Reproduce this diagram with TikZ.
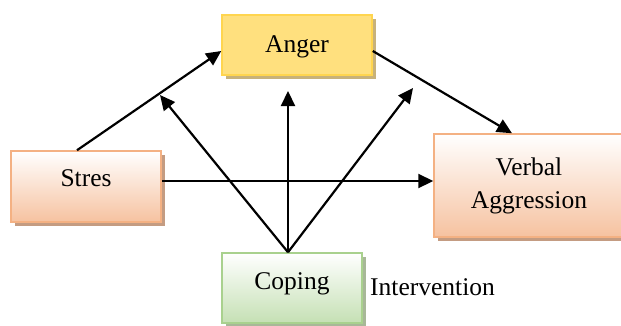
\documentclass[tikz,border=0pt]{standalone}
\usepackage{fontspec}
\setmainfont{Liberation Serif}
\usetikzlibrary{arrows.meta,shadows}
\definecolor{angerbd}{HTML}{FFD54F}
\definecolor{angerdk}{HTML}{FFE07E}
\definecolor{angerlt}{HTML}{FFFAEA}
\definecolor{angersh}{HTML}{C8B27A}
\definecolor{peachbd}{HTML}{F4B183}
\definecolor{peachdk}{HTML}{F6C2A0}
\definecolor{peachsh}{HTML}{C49C82}
\definecolor{greenbd}{HTML}{A9D18E}
\definecolor{greendk}{HTML}{C5E0B4}
\definecolor{greensh}{HTML}{A8B898}
\tikzset{
  box/.style={draw, line width=1.5pt, inner sep=0pt, align=center,
    font=\fontsize{25.5}{33}\selectfont},
  peachbox/.style={box, draw=peachbd, top color=white, bottom color=peachdk,
    drop shadow={shadow xshift=4pt, shadow yshift=-4pt, fill=peachsh, opacity=1}},
  angerbox/.style={box, draw=angerbd, top color=angerdk, middle color=angerlt,
    bottom color=angerdk, shading angle=-25,
    drop shadow={shadow xshift=4pt, shadow yshift=-4pt, fill=angersh, opacity=1}},
  greenbox/.style={box, draw=greenbd, top color=white, bottom color=greendk,
    drop shadow={shadow xshift=4pt, shadow yshift=-4pt, fill=greensh, opacity=1}},
  arr/.style={line width=2.2pt, -{Triangle[length=15pt,width=14pt]}},
  plain/.style={font=\fontsize{25.5}{33}\selectfont, inner sep=0pt}
}
\begin{document}
\begin{tikzpicture}[x=1pt,y=-1pt]
\useasboundingbox (0,0) rectangle (621,325);
\node[angerbox, minimum width=150pt, minimum height=60pt, text height=20pt] (anger) at (297,45) {Anger};
\node[peachbox, minimum width=150pt, minimum height=71pt, text depth=16pt] (stres) at (86,186.5) {Stres};
\node[peachbox, minimum width=190pt, minimum height=103pt] (verbal) at (529,185.5) {Verbal\\Aggression};
\node[greenbox, minimum width=140pt, minimum height=70pt, text depth=13pt] (coping) at (292,288) {Coping};
\node[plain, anchor=base west] (intervention) at (370,295) {Intervention};
\coordinate (t1) at (160,95);
\coordinate (t2) at (288,91);
\coordinate (t3) at (413,88);
\draw[arr] ([xshift=-9pt]stres.north) -- ([yshift=-6pt]anger.west);
\draw[arr] ([yshift=-6pt]anger.east) -- ([xshift=-17pt]verbal.north);
\draw[arr] ([yshift=5.5pt]stres.east) -- ([yshift=4.5pt]verbal.west);
\draw[arr] ([xshift=-4pt]coping.north) -- (t1);
\draw[arr] ([xshift=-4pt]coping.north) -- (t2);
\draw[arr] ([xshift=-4pt]coping.north) -- (t3);
\end{tikzpicture}
\end{document}
